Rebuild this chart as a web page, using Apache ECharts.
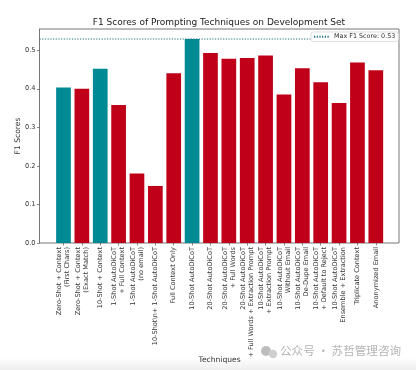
<!DOCTYPE html>
<html><head><meta charset="utf-8">
<style>html,body{margin:0;padding:0;background:#fff}#c{width:416px;height:370px}</style>
<script src="https://cdn.jsdelivr.net/npm/echarts@6/dist/echarts.min.js"></script>
</head><body><div id="c"></div>
<script>
const categories = ["Zero-Shot + Context\n(First Chars)","Zero-Shot + Context\n(Exact Match)","10-Shot + Context","1-Shot AutoDiCoT\n+ Full Context","1-Shot AutoDiCoT\n(no email)","10-Shot\\n+ 1-Shot AutoDiCoT","Full Context Only","10-Shot AutoDiCoT","20-Shot AutoDiCoT","20-Shot AutoDiCoT\n+ Full Words","20-Shot AutoDiCoT\n+ Full Words + Extraction Prompt","10-Shot AutoDiCoT\n+ Extraction Prompt","10-Shot AutoDiCoT\nWithout Email","10-Shot AutoDiCoT\nDe-Dupe Email","10-Shot AutoDiCoT\n+ Default to Reject","10-Shot AutoDiCoT\nEnsemble + Extraction","Triplicate Context","Anonymized Email"];
const scores = [0.403,0.400,0.452,0.358,0.180,0.148,0.440,0.529,0.493,0.478,0.480,0.486,0.385,0.453,0.417,0.363,0.468,0.448];
const tealIndexes = [0,2,7];
const maxScore = [0.529];
const yTicks = {min:0,max:0.555,interval:0.1};
const TEAL='#008a94', RED='#c00018', TXT='#333';
const font='"DejaVu Sans"';
const chart=echarts.init(document.getElementById('c'),null,{renderer:'canvas'});
chart.setOption({
  animation:false,
  backgroundColor:'#fff',
  textStyle:{fontFamily:font},
  title:{text:'F1 Scores of Prompting Techniques on Development Set',left:214,top:13,textAlign:'center',
    textStyle:{fontFamily:font,fontSize:9,fontWeight:'normal',color:'#222'}},
  legend:{data:['Max F1 Score: 0.53'],left:311,top:32,padding:[1.5,3,1.5,2],itemWidth:15,itemHeight:8,itemGap:4,
    backgroundColor:'#fff',borderColor:'#ddd',borderWidth:1,borderRadius:2,itemStyle:{opacity:0},
    textStyle:{fontFamily:font,fontSize:6.4,color:TXT}},
  grid:[
    {left:54.3,width:330.7,top:29,height:214,show:false,outerBoundsMode:'none'},
    {left:39.5,width:359.5,top:29,height:214,show:true,borderColor:'#777',borderWidth:1,backgroundColor:'transparent',outerBoundsMode:'none'}
  ],
  xAxis:[
    {gridIndex:0,type:'category',data:categories,axisLine:{show:false},
      axisTick:{show:true,alignWithLabel:true,length:2.5,lineStyle:{color:'#555',width:0.7}},
      axisLabel:{rotate:90,interval:0,fontFamily:font,fontSize:6.6,lineHeight:8,color:TXT,margin:4},
      name:'Techniques',nameLocation:'middle',nameGap:113,nameMoveOverlap:false,nameTextStyle:{fontFamily:font,fontSize:7.6,color:TXT}},
    {gridIndex:1,type:'value',min:0,max:1,show:false}
  ],
  yAxis:[
    {gridIndex:0,type:'value',min:yTicks.min,max:yTicks.max,show:false},
    {gridIndex:1,type:'value',min:yTicks.min,max:yTicks.max,interval:yTicks.interval,
      splitLine:{show:false},axisLine:{show:true,lineStyle:{color:'#777'}},
      axisTick:{show:true,length:2.5,lineStyle:{color:'#555',width:0.7}},
      axisLabel:{fontFamily:font,fontSize:6.6,color:TXT,margin:4,showMaxLabel:false,formatter:v=>v.toFixed(1)},
      name:'F1 Scores',nameLocation:'middle',nameGap:17,nameMoveOverlap:false,nameTextStyle:{fontFamily:font,fontSize:7.6,color:TXT}}
  ],
  series:[
    {type:'bar',xAxisIndex:0,yAxisIndex:0,barWidth:14.7,silent:true,
      data:scores.map((v,i)=>({value:v,itemStyle:{color:tealIndexes.includes(i)?TEAL:RED}}))},
    {name:'Max F1 Score: 0.53',type:'line',xAxisIndex:1,yAxisIndex:1,symbol:'none',silent:true,
      data:[[0,maxScore[0]],[1,maxScore[0]]],
      lineStyle:{color:'#1f6f80',type:[1.2,1.5],width:1},itemStyle:{color:'#1f6f80'}}
  ],
  graphic:[
    {type:'rect',left:0,top:358,shape:{width:416,height:12},z:-1,
      style:{fill:new echarts.graphic.LinearGradient(0,0,0,1,[{offset:0,color:'#ffffff'},{offset:1,color:'#eeeeee'}])}},
    {type:'circle',shape:{cx:266,cy:351,r:5},style:{fill:'#bdbdbd'},z:5},
    {type:'circle',shape:{cx:273,cy:354,r:4.2},style:{fill:'#cfcfcf'},z:5},
    {type:'text',left:280,top:345,z:5,style:{text:'公众号 · 苏哲管理咨询',fill:'#b4b4b4',
      font:'11.6px "Noto Sans CJK SC"'}}
  ]
});
</script></body></html>
